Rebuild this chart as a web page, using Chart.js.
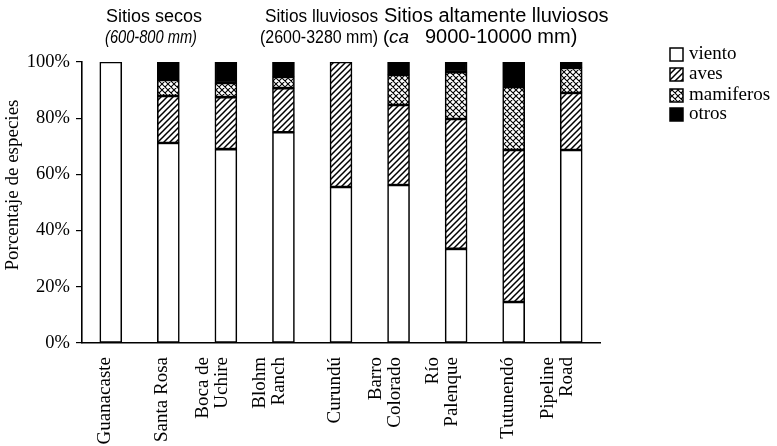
<!DOCTYPE html>
<html>
<head>
<meta charset="utf-8">
<script src="https://cdn.jsdelivr.net/npm/chart.js@4/dist/chart.umd.min.js"></script>
<style>
  html, body { margin: 0; padding: 0; background: #fff; }
  #wrap { width: 777px; height: 446px; position: relative; }
  canvas { display: block; }
</style>
</head>
<body>
<div id="wrap"><canvas id="c" width="777" height="446"></canvas></div>
<script>
// Sites, grouped by rainfall regime
const sites = [
  'Guanacaste', 'Santa Rosa', ['Boca de', 'Uchire'], ['Blohm', 'Ranch'],
  'Curundú', ['Barro', 'Colorado'], ['Río', 'Palenque'], 'Tutunendó', ['Pipeline', 'Road']
];

// Share of species (%) by dispersal agent
const viento     = [100, 71.2, 69.0, 75.0, 55.5, 56.2, 33.5, 14.6, 68.7];
const aves       = [0,   16.7, 18.5, 15.7, 44.5, 28.5, 46.2, 54.1, 20.3];
const mamiferos  = [0,    5.7,  5.0,  4.0,  0,   10.7, 16.7, 22.4,  8.9];
const otros      = [0,    6.4,  7.5,  5.3,  0,    4.6,  3.6,  8.9,  2.1];

const seriesNames = ['viento', 'aves', 'mamiferos', 'otros'];
const yTicks = [0, 20, 40, 60, 80, 100];
const yTitle = 'Porcentaje de especies';

// Header text runs: [text, left x, italic, size, max width]
const groupHeaders = [
  { x: 106, s1: 18, w1: 0, l1: 'Sitios secos',
    l2: [['(600-800 mm)', 105, true, 18, 92]] },
  { x: 265, s1: 18, w1: 113, l1: 'Sitios lluviosos',
    l2: [['(2600-3280 mm)', 260, false, 18, 118]] },
  { x: 384, s1: 20, w1: 0, l1: 'Sitios altamente lluviosos',
    l2: [['(', 383, false, 19, 0], ['ca', 389, true, 19, 0], ['9000-10000 mm)', 425, false, 20, 0]] }
];

const SERIF = '"Liberation Serif", "Times New Roman", serif';
const SANS = '"Liberation Sans", Arial, sans-serif';

// Fill patterns: diagonal hatch and cross-hatch
function hatch(cross) {
  const s = 6;
  const c = document.createElement('canvas');
  c.width = s; c.height = s;
  const g = c.getContext('2d');
  g.fillStyle = '#fff';
  g.fillRect(0, 0, s, s);
  g.strokeStyle = '#000';
  g.lineWidth = cross ? 1.1 : 1.5;
  g.beginPath();
  g.moveTo(-1, s + 1); g.lineTo(s + 1, -1);
  g.moveTo(-1, 1); g.lineTo(1, -1);
  g.moveTo(s - 1, s + 1); g.lineTo(s + 1, s - 1);
  if (cross) {
    g.moveTo(-1, -1); g.lineTo(s + 1, s + 1);
    g.moveTo(s - 1, -1); g.lineTo(s + 1, 1);
    g.moveTo(-1, s - 1); g.lineTo(1, s + 1);
  }
  g.stroke();
  return g.createPattern(c, 'repeat');
}

const ctx = document.getElementById('c').getContext('2d');
const fills = ['#ffffff', hatch(false), hatch(true), '#000000'];
const values = [viento, aves, mamiferos, otros];

// Group headers above the bars
const headerPlugin = {
  id: 'headers',
  afterDraw(chart) {
    const g = chart.ctx;
    g.save();
    g.fillStyle = '#000';
    g.textBaseline = 'alphabetic';
    g.textAlign = 'left';
    groupHeaders.forEach(h => {
      g.font = h.s1 + 'px ' + SANS;
      if (h.w1) g.fillText(h.l1, h.x, 22, h.w1);
      else g.fillText(h.l1, h.x, 22);
      h.l2.forEach(([txt, x, it, size, maxW]) => {
        g.font = (it ? 'italic ' : '') + size + 'px ' + SANS;
        if (maxW) g.fillText(txt, x, 43, maxW);
        else g.fillText(txt, x, 43);
      });
    });
    g.restore();
  }
};

// Vertical axis title and rotated site names
const axisTextPlugin = {
  id: 'axisText',
  afterDraw(chart) {
    const g = chart.ctx;
    const xs = chart.scales.x;
    g.save();
    g.fillStyle = '#000';
    g.font = '19px ' + SERIF;
    g.textAlign = 'center';
    g.textBaseline = 'middle';
    g.translate(13, 185);
    g.rotate(-Math.PI / 2);
    g.fillText(yTitle, 0, 0);
    g.restore();

    g.save();
    g.fillStyle = '#000';
    g.font = '19px ' + SERIF;
    g.textAlign = 'right';
    g.textBaseline = 'middle';
    chart.data.labels.forEach((lab, i) => {
      const lines = Array.isArray(lab) ? lab : [lab];
      const cx = xs.getPixelForTick(i);
      const last = lines.length > 1 ? cx - 4 : cx - 6;
      lines.forEach((ln, j) => {
        const x = last - (lines.length - 1 - j) * 19;
        g.save();
        g.translate(x, 357);
        g.rotate(-Math.PI / 2);
        g.fillText(ln, 0, 0);
        g.restore();
      });
    });
    g.restore();
  }
};

// Key with pattern swatches
const keyPlugin = {
  id: 'key',
  afterDraw(chart) {
    const g = chart.ctx;
    const rows = [48, 68, 89, 108];
    g.save();
    chart.data.datasets.forEach((ds, i) => {
      const y = rows[i];
      g.fillStyle = ds.backgroundColor;
      g.fillRect(670, y, 13, 13);
      g.strokeStyle = '#000';
      g.lineWidth = 1.5;
      g.strokeRect(670, y, 13, 13);
      g.fillStyle = '#000';
      g.font = '19px ' + SERIF;
      g.textBaseline = 'middle';
      g.textAlign = 'left';
      g.fillText(ds.label, 689, y + 6);
    });
    g.restore();
  }
};

new Chart(ctx, {
  type: 'bar',
  data: {
    labels: sites,
    datasets: seriesNames.map((n, i) => ({
      label: n,
      data: values[i],
      backgroundColor: fills[i],
      borderColor: '#000',
      borderWidth: 1.6,
      borderSkipped: false,
      barThickness: 22
    }))
  },
  options: {
    responsive: false,
    animation: false,
    devicePixelRatio: 1,
    layout: { padding: { top: 62, right: 177, left: 0, bottom: 0 } },
    plugins: {
      legend: { display: false },
      tooltip: { enabled: false }
    },
    scales: {
      x: {
        stacked: true,
        offset: true,
        grid: { display: false },
        border: { display: true, color: '#000', width: 1.6 },
        ticks: { display: false },
        afterFit(scale) { scale.height = 446 - 343; }
      },
      y: {
        stacked: true,
        min: 0, max: 100,
        afterBuildTicks(scale) { scale.ticks = yTicks.map(v => ({ value: v })); },
        grid: { drawOnChartArea: false, tickLength: 6, color: '#000', lineWidth: 1.2 },
        border: { display: true, color: '#000', width: 1.6 },
        ticks: {
          color: '#000',
          font: { family: SERIF, size: 18.5 },
          padding: 6,
          callback: v => v + '%'
        },
        afterFit(scale) { scale.width = 82; }
      }
    }
  },
  plugins: [headerPlugin, axisTextPlugin, keyPlugin]
});
</script>
</body>
</html>
